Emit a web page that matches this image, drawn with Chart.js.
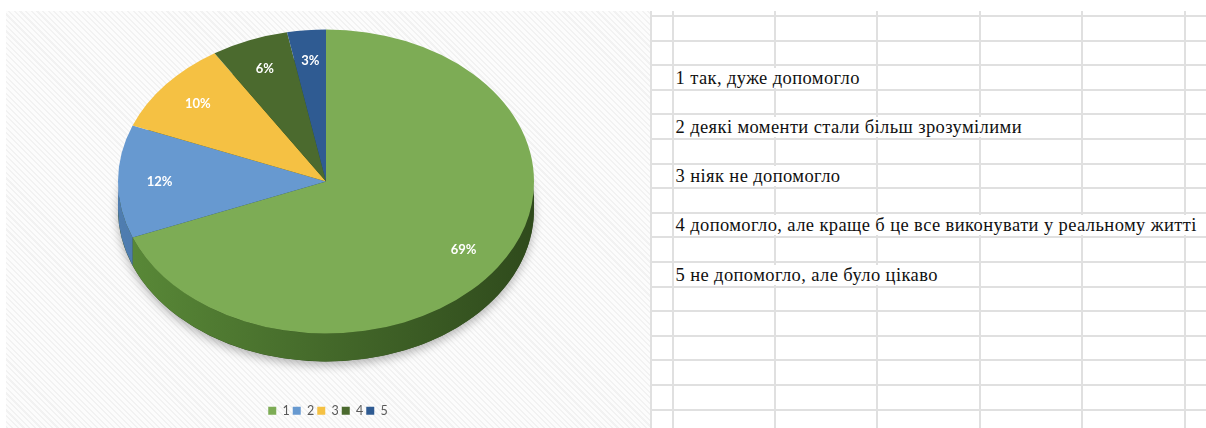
<!doctype html>
<html lang="uk">

<head>
    <meta charset="utf-8">
    <title>PIE 3D</title>
    <script src="https://cdn.jsdelivr.net/npm/chart.js@4.4.1/dist/chart.umd.min.js"></script>
    <style>
        body {
            margin: 0;
            width: 1206px;
            height: 428px;
            background: #fff;
            overflow: hidden;
            position: relative;
        }

        #chartBox {
            position: absolute;
            left: 6px;
            top: 11px;
            width: 644px;
            height: 417px;
            background: repeating-linear-gradient(45deg, #f2f2f2 0px, #f2f2f2 1.5px, #fcfcfc 1.5px, #fcfcfc 4px);
        }

        #sheet {
            position: absolute;
            left: 650px;
            top: 11px;
            width: 556px;
            height: 417px;
            overflow: hidden;
            background: #fff;
        }

        #sheet table {
            position: absolute;
            left: 0;
            top: -20.6px;
            border-collapse: collapse;
            table-layout: fixed;
            width: 593.5px;
        }

        #sheet td {
            height: 22.6px;
            padding: 0;
            border: 2px solid #e0e0e0;
            position: relative;
        }

        #sheet span {
            position: absolute;
            left: 2px;
            bottom: 1px;
            padding-right: 2px;
            white-space: nowrap;
            background: #fff;
            z-index: 1;
            font-family: "Liberation Serif", "Tinos", "Times New Roman", "Times", "Nimbus Roman", "Noto Serif", "FreeSerif", "DejaVu Serif", serif;
            font-size: 18.5px;
            letter-spacing: 0.4px;
            line-height: 20px;
            color: #111;
        }
    </style>
</head>

<body>

    <div id="chartBox"><canvas id="chart" width="644" height="417"></canvas></div>
    <div id="sheet"></div>

    <script>
        // відповіді на питання (у відсотках)
        var categories = ['1', '2', '3', '4', '5'];
        var percents = [69, 12, 10, 6, 3];
        var answers = [
            '1 так, дуже допомогло',
            '2 деякі моменти стали більш зрозумілими',
            '3 ніяк не допомогло',
            '4 допомогло, але краще б це все виконувати у реальному житті',
            '5 не допомогло, але було цікаво'
        ];

        var colors = ['#7dac55', '#6799d0', '#f5c143', '#4b6a2e', '#2f5b92'];
        var sideColors = [
            ['#5a8a38', '#44692a', '#2f4a1c'],
            ['#4f7db0', '#3f6a9a', '#345a85'],
            ['#c99a2a', '#b08520', '#9a731a'],
            ['#3a5424', '#2e441c', '#263a17'],
            ['#244a78', '#1e3f68', '#19365a']
        ];

        // tabla tipo excel a la derecha
        var colWidths = [21.5, 102, 102, 103, 102, 103, 60];
        var textRows = [3, 5, 7, 9, 11];
        var html = '<table><colgroup>';
        for (var c = 0; c < colWidths.length; c++) {
            html += '<col style="width:' + colWidths[c] + 'px">';
        }
        html += '</colgroup>';
        for (var r = 0; r < 18; r++) {
            var t = textRows.indexOf(r);
            html += '<tr>';
            for (var c = 0; c < colWidths.length; c++) {
                if (c == 1 && t >= 0) {
                    html += '<td><span>' + answers[t] + '</span></td>';
                } else {
                    html += '<td></td>';
                }
            }
            html += '</tr>';
        }
        html += '</table>';
        document.getElementById('sheet').innerHTML = html;

        // pastel "3D": se aplasta la tarta y se le pone un canto
        var pie3d = {
            id: 'pie3d',
            beforeDatasetsDraw: function (chart, args, opts) {
                var meta = chart.getDatasetMeta(0);
                if (!meta.data.length) return;
                var ctx = chart.ctx;
                var first = meta.data[0];
                var cx = opts.centerX, cy = opts.centerY;
                var rx = opts.radiusX, ry = opts.radiusY, d = opts.depth;

                // sombra
                ctx.save();
                ctx.shadowColor = 'rgba(0,0,0,0.28)';
                ctx.shadowBlur = 10;
                ctx.shadowOffsetY = 4;
                ctx.fillStyle = sideColors[0][2];
                ctx.beginPath();
                ctx.ellipse(cx, cy + d, rx, ry, 0, 0, Math.PI * 2);
                ctx.fill();
                ctx.restore();

                // canto de cada trozo visible (mitad de abajo)
                meta.data.forEach(function (arc, i) {
                    var lo = Math.max(arc.startAngle, 0);
                    var hi = Math.min(arc.endAngle, Math.PI);
                    if (lo >= hi) return;
                    var g = ctx.createLinearGradient(cx - rx, 0, cx + rx, 0);
                    g.addColorStop(0, sideColors[i][0]);
                    g.addColorStop(0.5, sideColors[i][1]);
                    g.addColorStop(1, sideColors[i][2]);
                    ctx.fillStyle = g;
                    ctx.beginPath();
                    ctx.ellipse(cx, cy, rx, ry, 0, lo, hi, false);
                    ctx.ellipse(cx, cy + d, rx, ry, 0, hi, lo, true);
                    ctx.closePath();
                    ctx.fill();
                });

                ctx.save();
                ctx.translate(cx, cy);
                ctx.scale(rx / first.outerRadius, ry / first.outerRadius);
                ctx.translate(-first.x, -first.y);
            },
            afterDatasetsDraw: function (chart, args, opts) {
                var meta = chart.getDatasetMeta(0);
                if (!meta.data.length) return;
                var ctx = chart.ctx;
                ctx.restore();

                ctx.save();
                ctx.fillStyle = '#ffffff';
                ctx.font = 'bold 13px Lato';
                ctx.textAlign = 'center';
                ctx.textBaseline = 'middle';
                meta.data.forEach(function (arc, i) {
                    var mid = (arc.startAngle + arc.endAngle) / 2;
                    var x = opts.centerX + opts.radiusX * opts.labelPos * Math.cos(mid);
                    var y = opts.centerY + opts.radiusY * opts.labelPos * Math.sin(mid);
                    ctx.fillText(percents[i] + '%', x, y);
                });
                ctx.restore();
            }
        };

        new Chart(document.getElementById('chart').getContext('2d'), {
            type: 'pie',
            data: {
                labels: categories,
                datasets: [{
                    data: percents,
                    backgroundColor: colors,
                    borderWidth: 0,
                    hoverOffset: 0,
                    clip: false
                }]
            },
            options: {
                responsive: false,
                animation: false,
                devicePixelRatio: 1,
                layout: {
                    padding: { bottom: 1 }
                },
                plugins: {
                    legend: {
                        position: 'bottom',
                        labels: {
                            boxWidth: 8,
                            boxHeight: 8,
                            padding: 3,
                            color: '#595959',
                            font: { family: 'Lato', size: 12.5 }
                        }
                    },
                    tooltip: { enabled: false },
                    pie3d: {
                        centerX: 320,
                        centerY: 170.5,
                        radiusX: 208,
                        radiusY: 152,
                        depth: 28,
                        labelPos: 0.8
                    }
                }
            },
            plugins: [pie3d]
        });
    </script>

</body>

</html>
